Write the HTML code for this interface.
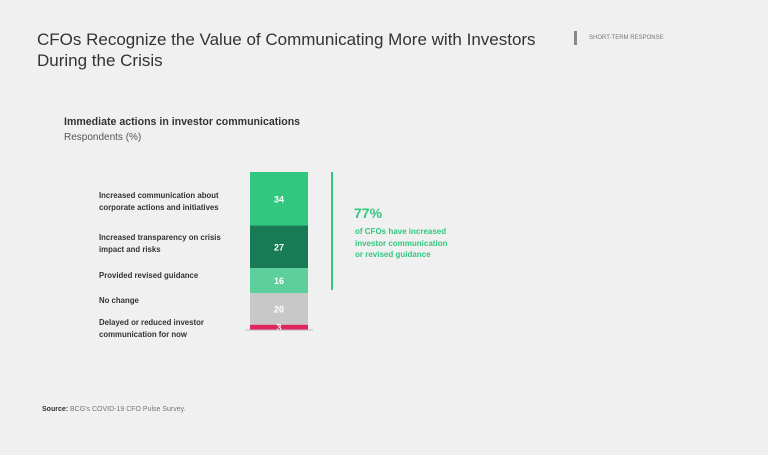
<!DOCTYPE html>
<html><head><meta charset="utf-8"><style>
body{margin:0;width:768px;height:455px;background:#f0f0f0;font-family:"Liberation Sans",sans-serif;overflow:hidden;position:relative}
.a{position:absolute}
.lbl{position:absolute;left:99px;font-size:7.8px;font-weight:bold;color:#333;line-height:11.5px}
</style></head><body>
<div class="a" style="left:37px;top:29px;font-size:17px;color:#333;line-height:21px">CFOs Recognize the Value of Communicating More with Investors<br>During the Crisis</div>
<div class="a" style="left:574px;top:31px;width:3px;height:14px;background:#888"></div>
<div class="a" style="left:589px;top:35px;font-size:6px;color:#777">SHORT-TERM RESPONSE</div>
<div class="a" style="left:64px;top:116px;font-size:10.6px;font-weight:bold;color:#333">Immediate actions in investor communications</div>
<div class="a" style="left:64px;top:132px;font-size:10px;color:#555">Respondents (%)</div>
<svg class="a" style="left:0;top:0" width="768" height="455" id="chart"></svg>
<div class="a" style="left:331px;top:172px;width:2px;height:118px;background:#32c77f"></div>
<div class="a" style="left:354px;top:205px;font-size:14px;font-weight:bold;color:#32c77f">77%</div>
<div class="a" style="left:355px;top:226px;font-size:8px;font-weight:bold;color:#32c77f;line-height:11.5px">of CFOs have increased<br>investor communication<br>or revised guidance</div>
<div class="a" style="left:42px;top:406px;font-size:7px;color:#777"><b style="color:#333">Source:</b> BCG's COVID-19 CFO Pulse Survey.</div>
<script>
const categories=["Increased communication about corporate actions and initiatives","Increased transparency on crisis impact and risks","Provided revised guidance","No change","Delayed or reduced investor communication for now"];
const values=[34,27,16,20,3];
const colors=["#32c77f","#197a56","#5dcf9b","#c8c8c8","#e0245e"];
const labelLines=[["Increased communication about","corporate actions and initiatives"],["Increased transparency on crisis","impact and risks"],["Provided revised guidance"],["No change"],["Delayed or reduced investor","communication for now"]];
const labelY=[190,232,270,295,317];
const svg=document.getElementById('chart');
const NS='http://www.w3.org/2000/svg';
const top0=172,bottom0=329.5,x0=250,w=58;
const total=values.reduce((a,b)=>a+b,0);
const yScale=v=>v/total*(bottom0-top0);
let y=top0;
values.forEach((v,i)=>{
  const h=yScale(v);
  const r=document.createElementNS(NS,'rect');
  r.setAttribute('x',x0);r.setAttribute('y',y);r.setAttribute('width',w);r.setAttribute('height',h);r.setAttribute('fill',colors[i]);
  
  
  svg.appendChild(r);
  const t=document.createElementNS(NS,'text');
  t.setAttribute('x',x0+w/2);t.setAttribute('y',y+h/2+3.5);t.setAttribute('text-anchor','middle');
  t.setAttribute('font-size','9');t.setAttribute('font-weight','bold');t.setAttribute('fill','#fff');
  t.setAttribute('font-family','Liberation Sans, sans-serif');
  t.textContent=v;
  
  
  svg.appendChild(t);
  const d=document.createElement('div');
  d.className='lbl';d.style.top=labelY[i]+'px';
  d.innerHTML=labelLines[i].join('<br>');
  
  
  document.body.appendChild(d);
  y+=h;
});
const base=document.createElementNS(NS,'line');
base.setAttribute('x1',245);base.setAttribute('x2',313);base.setAttribute('y1',bottom0+0.5);base.setAttribute('y2',bottom0+0.5);
base.setAttribute('stroke','#bbb');base.setAttribute('stroke-width','1');


svg.appendChild(base);
</script>
</body></html>
